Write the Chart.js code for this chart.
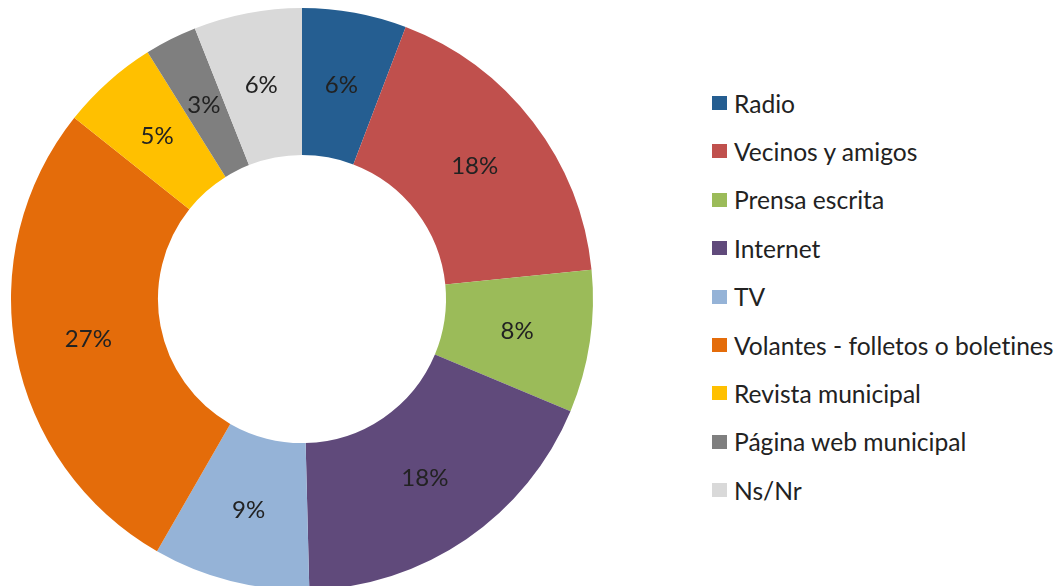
<!DOCTYPE html>
<html>
<head>
<meta charset="utf-8">
<script src="https://cdn.jsdelivr.net/npm/chart.js@4.4.1/dist/chart.umd.min.js"></script>
<style>
  html, body { margin: 0; padding: 0; background: #fff; overflow: hidden; }
  #wrap { position: relative; width: 1060px; height: 586px; }
  #box { position: absolute; left: 0; top: 0; width: 604px; height: 590px; }
  #legend { position: absolute; left: 712px; top: 0; font-family: Lato, sans-serif; font-size: 24.6px; color: #222; font-variant-ligatures: none; }
  .item { position: absolute; left: 0; white-space: nowrap; display: flex; align-items: center; }
  .swatch { width: 15px; height: 14px; margin-right: 7px; }
</style>
</head>
<body>
<div id="wrap">
  <div id="box"><canvas id="chart"></canvas></div>
  <div id="legend"></div>
</div>
<script>
const labels = ['Radio', 'Vecinos y amigos', 'Prensa escrita', 'Internet', 'TV',
  'Volantes - folletos o boletines', 'Revista municipal', 'Página web municipal', 'Ns/Nr'];
const shares = [5.8, 17.6, 7.9, 18.3, 8.7, 27.4, 5.4, 2.9, 6.0];
const colors = ['#255E91', '#C0504D', '#9BBB59', '#604A7B', '#95B3D7',
  '#E46C0A', '#FFC000', '#7F7F7F', '#D9D9D9'];

const FONT = 'Lato, sans-serif';

// percentage text in the middle of each ring segment
const sliceLabels = {
  id: 'sliceLabels',
  afterDatasetsDraw(chart) {
    const ctx = chart.ctx;
    const arcs = chart.getDatasetMeta(0).data;
    ctx.save();
    ctx.font = `24px ${FONT}`;
    ctx.fillStyle = '#222';
    ctx.textAlign = 'center';
    ctx.textBaseline = 'middle';
    arcs.forEach((arc, i) => {
      const p = arc.tooltipPosition();
      ctx.fillText(Math.round(shares[i]) + '%', p.x, p.y);
    });
    ctx.restore();
  }
};

new Chart(document.getElementById('chart'), {
  type: 'doughnut',
  data: {
    labels,
    datasets: [{ data: shares, backgroundColor: colors, borderWidth: 0 }]
  },
  options: {
    responsive: true,
    maintainAspectRatio: false,
    animation: false,
    cutout: '49.5%',
    layout: { padding: { left: 11, right: 11, top: 8, bottom: 0 } },
    plugins: { legend: { display: false }, tooltip: { enabled: false } }
  },
  plugins: [sliceLabels]
});

const legend = document.getElementById('legend');
labels.forEach((name, i) => {
  const row = document.createElement('div');
  row.className = 'item';
  row.style.top = `${103 + i * 48.4 - 15}px`;
  row.style.height = '30px';
  const sw = document.createElement('span');
  sw.className = 'swatch';
  sw.style.background = colors[i];
  const txt = document.createElement('span');
  txt.textContent = name;
  row.appendChild(sw);
  row.appendChild(txt);
  legend.appendChild(row);
});
</script>
</body>
</html>
